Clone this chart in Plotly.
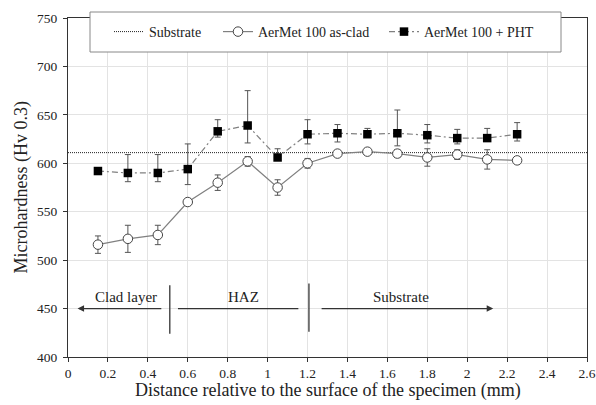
import plotly.graph_objects as go

# ---- data ----
distance = [0.15, 0.30, 0.45, 0.60, 0.75, 0.90, 1.05, 1.20, 1.35, 1.50, 1.65, 1.80, 1.95, 2.10, 2.25]
clad_hv = [516, 522, 526, 560, 580, 602, 575, 600, 610, 612, 610, 606, 609, 604, 603]
clad_err = [9, 14, 10, 3, 8, 5, 8, 5, 3, 3, 4, 9, 5, 10, 0]
pht_hv = [592, 590, 590, 594, 633, 639, 606, 630, 631, 630, 631, 629, 626, 626, 630]
pht_err_plus = [0, 19, 19, 26, 12, 36, 9, 15, 9, 6, 24, 11, 9, 10, 12]
pht_err_minus = [0, 9, 9, 16, 6, 18, 3, 10, 9, 3, 13, 8, 6, 3, 7]
substrate_x = [0, 2.6]
substrate_hv = [611, 611]

FONT = "Liberation Serif"

fig = go.Figure()

fig.add_trace(go.Scatter(
    x=substrate_x, y=substrate_hv, mode="lines", name="Substrate", legend="legend",
    line=dict(color="#222222", width=1, dash="1px,1px"),
))

fig.add_trace(go.Scatter(
    x=distance, y=clad_hv, mode="lines+markers", name="AerMet 100 as-clad", legend="legend2",
    line=dict(color="#808080", width=1.2),
    marker=dict(symbol="circle", size=9.5, color="white", line=dict(color="#444444", width=1)),
    error_y=dict(type="data", array=clad_err, visible=True, color="#555555", thickness=1, width=3),
))

fig.add_trace(go.Scatter(
    x=distance, y=pht_hv, mode="lines+markers", name="AerMet 100 + PHT", legend="legend3",
    line=dict(color="#808080", width=1.2, dash="6px,3px,2px,3px"),
    marker=dict(symbol="square", size=8.5, color="black"),
    error_y=dict(type="data", symmetric=False, array=pht_err_plus, arrayminus=pht_err_minus,
                 visible=True, color="#555555", thickness=1, width=3),
))

# region annotations
arrow_y = 450
fig.add_annotation(x=0.048, y=arrow_y, ax=0.475, ay=arrow_y, xref="x", yref="y", axref="x", ayref="y",
                   showarrow=True, arrowhead=2, arrowsize=1, arrowwidth=1.3, arrowcolor="#333333", text="")
fig.add_annotation(x=2.13, y=arrow_y, ax=1.263, ay=arrow_y, xref="x", yref="y", axref="x", ayref="y",
                   showarrow=True, arrowhead=2, arrowsize=1, arrowwidth=1.3, arrowcolor="#333333", text="")
fig.add_shape(type="line", x0=0.551, x1=1.154, y0=arrow_y, y1=arrow_y, line=dict(color="#333333", width=1.3))
fig.add_shape(type="line", x0=0.51, x1=0.51, y0=424, y1=474, line=dict(color="#333333", width=1.3))
fig.add_shape(type="line", x0=1.207, x1=1.207, y0=426, y1=476, line=dict(color="#333333", width=1.3))

for label, xpos in [("Clad layer", 0.29), ("HAZ", 0.88), ("Substrate", 1.667)]:
    fig.add_annotation(x=xpos, y=arrow_y, yshift=12, text=label, showarrow=False,
                       font=dict(family=FONT, size=15, color="#222222"))

# legend frame (drawn as a box over the plot, legend entries on top)
fig.add_shape(type="rect", xref="paper", yref="paper",
              x0=(90 - 68) / 519, x1=(561 - 68) / 519,
              y0=1 - (52 - 18) / 339, y1=1 + (18 - 12) / 339,
              fillcolor="white", line=dict(color="#888888", width=1), layer="above")

leg_common = dict(orientation="h", xanchor="left", yanchor="top",
                  y=1 + (18 - 16) / 339,
                  bgcolor="rgba(0,0,0,0)", borderwidth=0,
                  font=dict(family=FONT, size=14, color="#222222"),
                  itemwidth=30)

fig.update_layout(
    width=596, height=405,
    margin=dict(l=68, r=9, t=18, b=48, autoexpand=False),
    paper_bgcolor="white", plot_bgcolor="white",
    font=dict(family=FONT, size=13, color="#222222"),
    showlegend=True,
    legend=dict(x=(109 - 68) / 519, **leg_common),
    legend2=dict(x=(218 - 68) / 519, **leg_common),
    legend3=dict(x=(384 - 68) / 519, **leg_common),
)

fig.update_xaxes(
    range=[0, 2.6], dtick=0.2, tick0=0,
    showgrid=True, gridcolor="#e3e3e3", gridwidth=1,
    showline=True, linecolor="#333333", linewidth=1, mirror=True,
    ticks="outside", ticklen=4, tickcolor="#333333",
    tickfont=dict(family=FONT, size=13.5, color="#222222"),
    zeroline=False,
)
fig.update_yaxes(
    range=[400, 750], dtick=50,
    showgrid=True, gridcolor="#e3e3e3", gridwidth=1,
    showline=True, linecolor="#333333", linewidth=1, mirror=True,
    ticks="outside", ticklen=4, tickcolor="#333333",
    tickfont=dict(family=FONT, size=13.5, color="#222222"), ticklabelstandoff=3,
    zeroline=False,
)

# axis titles placed as annotations to match the reference placement
fig.add_annotation(text="Distance relative to the surface of the specimen (mm)",
                   xref="paper", yref="paper", x=0.5, y=-(390 - 357) / 339,
                   xanchor="center", yanchor="middle", showarrow=False,
                   font=dict(family=FONT, size=18, color="#222222"))
fig.add_annotation(text="Microhardness (Hv 0.3)", textangle=-90,
                   xref="paper", yref="paper", x=-(68 - 21) / 519, y=0.5,
                   xanchor="center", yanchor="middle", showarrow=False,
                   font=dict(family=FONT, size=18, color="#222222"))

fig.write_html("out.html", config={"displayModeBar": False},
               post_script="document.body.style.margin='0';document.body.style.padding='0';")
